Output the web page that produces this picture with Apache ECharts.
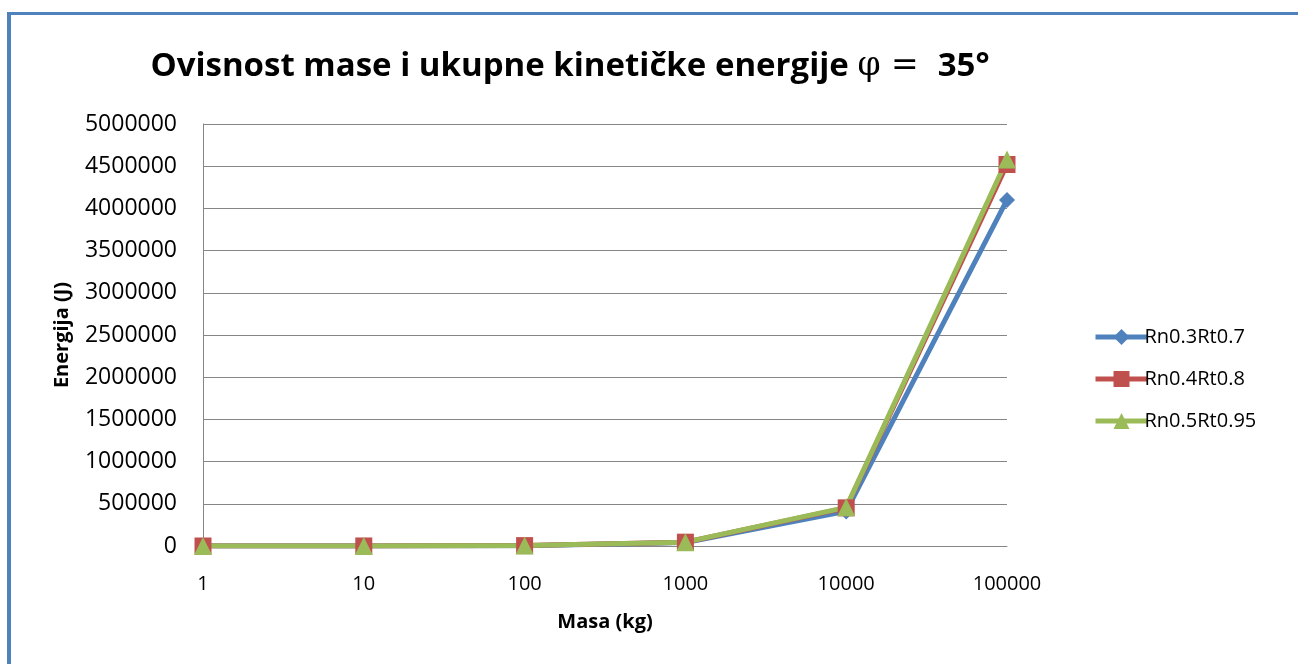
<!DOCTYPE html>
<html>
<head>
<meta charset="utf-8">
<script src="https://cdn.jsdelivr.net/npm/echarts@6/dist/echarts.min.js"></script>
<style>
  html, body { margin: 0; padding: 0; background: #fff; }
  #echartsShow { width: 1298px; height: 664px; }
</style>
</head>
<body>
<div id="echartsShow"></div>
<script>
var masaKategorije = ['1', '10', '100', '1000', '10000', '100000'];
var yOznake = [0, 500000, 1000000, 1500000, 2000000, 2500000, 3000000, 3500000, 4000000, 4500000, 5000000];
var nazivi = ['Rn0.3Rt0.7', 'Rn0.4Rt0.8', 'Rn0.5Rt0.95'];
var energija1 = [41, 410, 4100, 41000, 410000, 4100000];
var energija2 = [45.2, 452, 4520, 45200, 452000, 4520000];
var energija3 = [45.8, 458, 4580, 45800, 458000, 4580000];

var font = '"Open Sans", "Liberation Sans", sans-serif';
var echartsShow = echarts.init(document.getElementById('echartsShow'));
option = {
    animation: false,
    textStyle: { fontFamily: font },
    graphic: [
        { type: 'rect', shape: { x: 7, y: 12, width: 4, height: 652 }, style: { fill: '#4F81BD' } },
        { type: 'rect', shape: { x: 7, y: 12, width: 1291, height: 3 }, style: { fill: '#4F81BD' } }
    ],
    title: {
        text: '{b|Ovisnost mase i ukupne kinetičke energije }{p|φ = }{b| 35°}',
        left: 565,
        top: 45,
        textAlign: 'center',
        textStyle: {
            rich: {
                b: { fontFamily: font, fontWeight: 'bold', fontSize: 33, color: '#000' },
                p: { fontFamily: '"DejaVu Serif", serif', fontWeight: 'normal', fontSize: 33, color: '#000' }
            }
        }
    },
    legend: {
        orient: 'vertical',
        left: 1088,
        top: 322,
        itemGap: 22,
        itemWidth: 52,
        itemHeight: 20,
        lineStyle: { width: 5 },
        textStyle: { fontSize: 20, color: '#000', fontFamily: font, padding: [0, 0, 0, -8] },
        data: nazivi
    },
    grid: {
        left: 203,
        right: 291,
        top: 124,
        bottom: 118,
        containLabel: false
    },
    xAxis: [{
        type: 'category',
        boundaryGap: false,
        data: masaKategorije,
        name: 'Masa (kg)',
        nameLocation: 'middle',
        nameGap: 66,
        nameTextStyle: { fontWeight: 'bold', fontSize: 20, color: '#000', fontFamily: font },
        axisLine: { lineStyle: { color: '#868686', width: 1 } },
        axisTick: { show: false },
        axisLabel: { fontSize: 20, color: '#000', margin: 28, fontFamily: font },
        splitLine: { show: false }
    }],
    yAxis: [{
        type: 'value',
        min: 0,
        max: 5000000,
        interval: 500000,
        name: 'Energija (J)',
        nameLocation: 'middle',
        nameGap: 131,
        nameTextStyle: { fontWeight: 'bold', fontSize: 20, color: '#000', fontFamily: font },
        axisLine: { show: true, lineStyle: { color: '#868686', width: 1 } },
        axisTick: { show: false },
        axisLabel: {
            fontSize: 23, color: '#000', margin: 26, fontFamily: font,
            formatter: function (v) { return yOznake.indexOf(v) >= 0 ? String(v) : ''; }
        },
        splitLine: { lineStyle: { color: '#868686', width: 1 } }
    }],
    series: [{
            name: nazivi[0],
            type: 'line',
            data: energija1,
            symbol: 'diamond',
            symbolSize: 16,
            lineStyle: { width: 5, color: '#4F81BD' },
            itemStyle: { color: '#4F81BD' }
        },
        {
            name: nazivi[1],
            type: 'line',
            data: energija2,
            symbol: 'rect',
            symbolSize: 17,
            lineStyle: { width: 5, color: '#C0504D' },
            itemStyle: { color: '#C0504D' }
        },
        {
            name: nazivi[2],
            type: 'line',
            data: energija3,
            symbol: 'triangle',
            symbolSize: 18,
            lineStyle: { width: 5, color: '#9BBB59' },
            itemStyle: { color: '#9BBB59' }
        }
    ]
};
echartsShow.setOption(option);
</script>
</body>
</html>
